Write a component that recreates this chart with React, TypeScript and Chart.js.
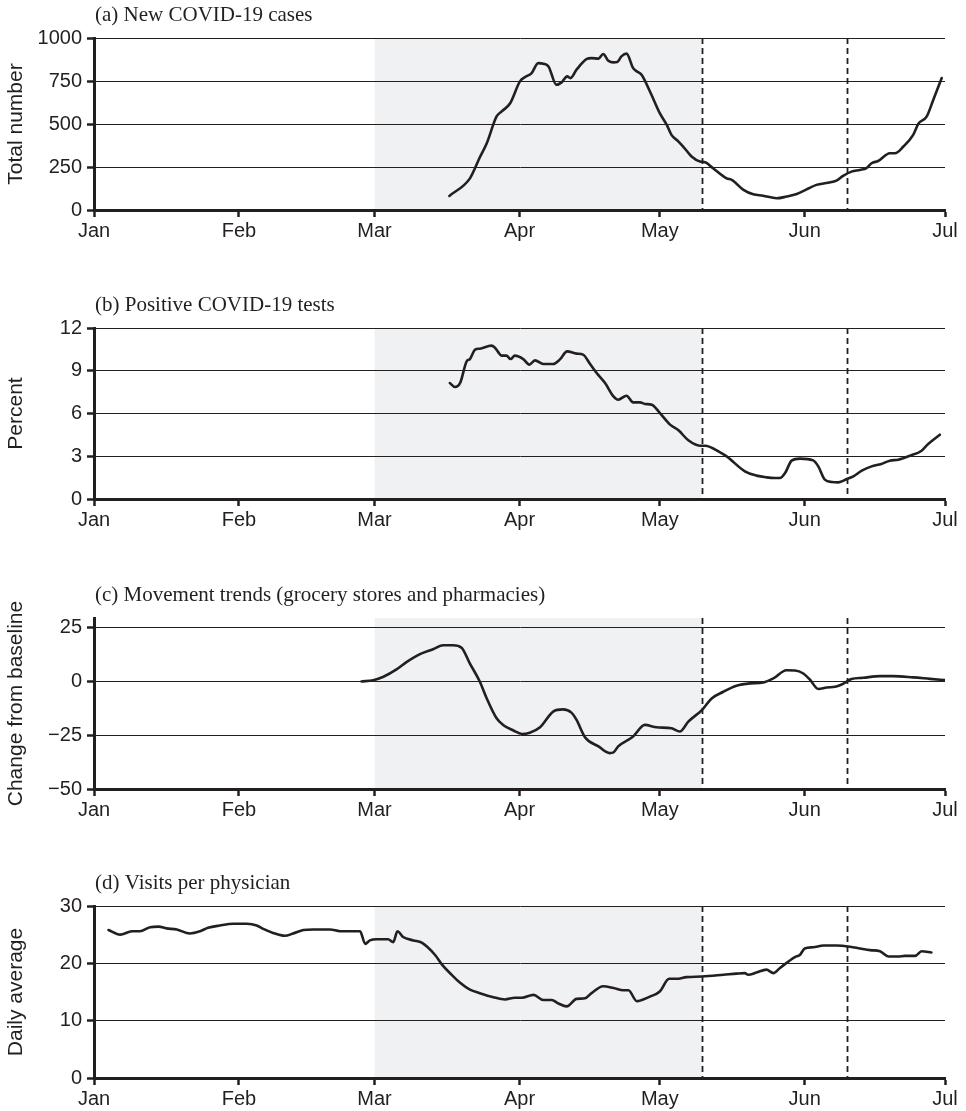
import React, { useEffect, useRef } from 'react';
import { Chart, registerables } from 'chart.js';

Chart.register(...registerables);

// ---- Axis categories (day of year 2020, Jan 1 = 0) ----
const monthLabels = ['Jan', 'Feb', 'Mar', 'Apr', 'May', 'Jun', 'Jul'];
const monthDays = [0, 31, 60, 91, 121, 152, 182];

// shaded period and dashed reference dates (day of year)
const shadeStartDay = 60;
const shadeEndDay = 130;
const dashedDays = [130, 161];

// ---- (a) New COVID-19 cases ----
const casesDays = [76, 80.4, 82.5, 84, 86.1, 87.2, 89, 91.1, 92.2, 93.6, 95, 96.1, 97.2, 98.9, 100, 101.2, 101.9, 103.2, 105.4, 106.4, 107.9, 108.9, 110, 111.1, 111.9, 112.8, 113.9, 115.3, 116.1, 117.1, 118.9, 121, 122.5, 123.5, 125, 126, 127.8, 129.6, 130.7, 132.4, 135.3, 136.4, 138.9, 141, 143.1, 146, 148.1, 150.3, 152.4, 154.5, 157, 158.8, 160.2, 162, 163.8, 165.2, 166.3, 167.7, 170.2, 171.3, 173.1, 175.2, 176.3, 178.1, 179.5, 181.3];
const casesValues = [82, 184, 305, 388, 544, 573, 621, 748, 773, 796, 854, 850, 835, 728, 742, 777, 767, 816, 878, 883, 880, 907, 868, 858, 860, 893, 909, 825, 806, 786, 689, 563, 495, 437, 398, 369, 311, 282, 278, 243, 184, 175, 117, 91, 83, 68, 78, 93, 120, 146, 159, 171, 198, 223, 233, 243, 272, 285, 330, 330, 369, 437, 501, 544, 641, 767];
const casesTicks = [0, 250, 500, 750, 1000];

// ---- (b) Positive COVID-19 tests ----
const testsDays = [76.1, 77.2, 78.3, 79.7, 80.4, 81.5, 82.5, 85, 85.8, 87.2, 88.2, 89.1, 90, 91.8, 93.1, 94.3, 96.1, 98.2, 99.6, 101.2, 103.2, 104.6, 106.1, 107.5, 109.3, 111.1, 112.1, 113.9, 115.3, 116.8, 117.8, 119.3, 121, 123.2, 125, 127.1, 129.6, 130.7, 133.9, 135.3, 139.2, 141.7, 143.8, 145.6, 146.7, 147.8, 149.2, 151, 153.8, 154.9, 156.3, 157.8, 159.2, 161, 162.4, 164.2, 166.3, 168.4, 170.2, 172, 174.5, 177, 178.4, 180.9];
const testsValues = [8.14, 7.86, 8.14, 9.66, 9.82, 10.48, 10.55, 10.76, 10.6, 10.06, 10.06, 9.82, 10.06, 9.82, 9.43, 9.73, 9.47, 9.47, 9.78, 10.36, 10.2, 10.13, 9.47, 8.84, 8.14, 7.2, 6.97, 7.25, 6.78, 6.78, 6.67, 6.62, 6.04, 5.22, 4.82, 4.12, 3.74, 3.74, 3.27, 2.99, 1.94, 1.64, 1.52, 1.47, 1.47, 1.82, 2.69, 2.83, 2.71, 2.29, 1.36, 1.19, 1.17, 1.4, 1.59, 1.99, 2.29, 2.46, 2.69, 2.76, 3.04, 3.39, 3.86, 4.51];
const testsTicks = [0, 3, 6, 9, 12];

// ---- (c) Movement trends (grocery stores and pharmacies) ----
const moveDays = [57.2, 59.7, 61.9, 64.7, 66.9, 69.7, 72.5, 74.7, 76.8, 78.6, 80.4, 82.5, 84, 86.1, 87.5, 89.7, 91.5, 93.2, 95.4, 98.2, 100.3, 102.1, 103.2, 105, 107.9, 110.3, 111.1, 112.1, 115.3, 117.8, 120.3, 123.5, 125.3, 127.1, 130, 132.1, 134.6, 137.4, 140.3, 143.1, 145.3, 148.1, 149.9, 151.7, 153.1, 154.9, 156.7, 158.5, 159.9, 162, 164.5, 168.1, 170.9, 175.2, 178.8, 182];
const moveValues = [0, 0.6, 2.2, 5.6, 9.1, 12.7, 15, 16.8, 16.8, 15.7, 8.3, 0, -7.9, -17.1, -20.2, -22.8, -24.4, -23.8, -21.3, -14, -13, -14.5, -17.9, -25.9, -30.2, -33.3, -33, -30.2, -25.6, -20.2, -21.3, -21.8, -23.3, -18.7, -13.3, -7.9, -4.8, -2, -0.9, -0.5, 1.4, 5.2, 5.1, 3.7, 0.9, -3.5, -2.8, -2.5, -1.4, 1.1, 1.7, 2.5, 2.5, 1.9, 1.2, 0.6];
const moveTicks = [-50, -25, 0, 25];

// ---- (d) Visits per physician ----
const visitsDays = [3.1, 5.6, 8.1, 9.8, 12, 13.8, 15.5, 17.7, 20.5, 22.7, 24.4, 26.9, 29.8, 32.7, 34.8, 36.2, 38.3, 40.8, 42.6, 44.8, 46.9, 50.5, 52.6, 54.7, 56.9, 58, 59, 60.5, 62.9, 64, 64.9, 66.1, 68.3, 70.1, 72.9, 74.7, 76.5, 78.3, 80.4, 82.5, 85.4, 87.9, 90, 91.5, 94, 96.1, 97.9, 99.3, 101.1, 103.2, 105, 106.4, 108.9, 111.1, 113.2, 114.3, 116.1, 118.9, 121, 123, 124.6, 126.7, 130, 134.6, 137.4, 139.2, 139.9, 141.7, 143.8, 145.3, 146.7, 149.9, 151, 152, 153.8, 156, 158.8, 161.7, 163.8, 166, 168.1, 169.9, 172, 173.4, 175.6, 177, 179.1];
const visitsValues = [25.8, 25, 25.6, 25.6, 26.3, 26.4, 26.1, 25.9, 25.2, 25.6, 26.2, 26.6, 26.9, 26.9, 26.6, 26, 25.3, 24.8, 25.2, 25.8, 25.9, 25.9, 25.6, 25.6, 25.6, 23.4, 24, 24.2, 24.2, 23.7, 25.6, 24.6, 24, 23.6, 21.5, 19.5, 18, 16.6, 15.4, 14.8, 14.1, 13.7, 14, 14, 14.5, 13.6, 13.6, 13, 12.5, 13.8, 13.9, 14.8, 16, 15.7, 15.3, 15.3, 13.4, 14.2, 15.1, 17.3, 17.3, 17.6, 17.7, 18, 18.2, 18.3, 18, 18.4, 18.9, 18.3, 19.2, 21.1, 21.5, 22.6, 22.8, 23.1, 23.1, 22.9, 22.6, 22.3, 22.1, 21.2, 21.2, 21.3, 21.3, 22.1, 21.9];
const visitsTicks = [0, 10, 20, 30];

// ---- styling / layout ----
const INK = '#231f20';
const SHADE = '#f0f1f3';
const SANS = '"Liberation Sans", Arial, Helvetica, sans-serif';
const SERIF = '"Liberation Serif", "Times New Roman", Times, serif';
const CANVAS_W = 966;
const Y_AXIS_W = 94;
const X_AXIS_H = 33;
const RIGHT_PAD = 21;

type PanelSpec = {
  title: string;
  yTitle: string;
  days: number[];
  values: number[];
  ticks: number[];
  yMin: number;
  yMax: number;
  top: number;
  chartTop: number;
  chartBottom: number;
};

const panels: PanelSpec[] = [
  { title: '(a) New COVID-19 cases', yTitle: 'Total number', days: casesDays, values: casesValues, ticks: casesTicks, yMin: 0, yMax: 1000, top: 0, chartTop: 38, chartBottom: 210 },
  { title: '(b) Positive COVID-19 tests', yTitle: 'Percent', days: testsDays, values: testsValues, ticks: testsTicks, yMin: 0, yMax: 12, top: 260, chartTop: 328, chartBottom: 499 },
  { title: '(c) Movement trends (grocery stores and pharmacies)', yTitle: 'Change from baseline', days: moveDays, values: moveValues, ticks: moveTicks, yMin: -50, yMax: 29.5, top: 560, chartTop: 618, chartBottom: 789 },
  { title: '(d) Visits per physician', yTitle: 'Daily average', days: visitsDays, values: visitsValues, ticks: visitsTicks, yMin: 0, yMax: 30, top: 850, chartTop: 906, chartBottom: 1078 },
];

function Panel({ spec }: { spec: PanelSpec }) {
  const ref = useRef<HTMLCanvasElement>(null);
  const height = spec.chartBottom + X_AXIS_H - spec.top;

  useEffect(() => {
    if (!ref.current) return;
    const overlay = {
      id: 'overlay',
      beforeDraw(chart: any) {
        const { ctx, chartArea, scales } = chart;
        const xs = scales.x;
        ctx.save();
        const x0 = xs.getPixelForValue(shadeStartDay);
        const x1 = xs.getPixelForValue(shadeEndDay);
        ctx.fillStyle = SHADE;
        ctx.fillRect(x0, chartArea.top, x1 - x0, chartArea.bottom - chartArea.top);
        ctx.fillStyle = INK;
        ctx.font = `21px ${SERIF}`;
        ctx.textAlign = 'left';
        ctx.textBaseline = 'alphabetic';
        ctx.fillText(spec.title, chartArea.left + 1, chartArea.top - 17.5);
        ctx.restore();
      },
      beforeDatasetsDraw(chart: any) {
        const { ctx, chartArea, scales } = chart;
        const xs = scales.x;
        ctx.save();
        ctx.strokeStyle = INK;
        ctx.lineWidth = 1.8;
        ctx.setLineDash([6, 4]);
        for (const d of dashedDays) {
          const px = Math.round(xs.getPixelForValue(d)) + 0.5;
          ctx.beginPath();
          ctx.moveTo(px, chartArea.top);
          ctx.lineTo(px, chartArea.bottom);
          ctx.stroke();
        }
        ctx.restore();
      },
    };

    const chart = new Chart(ref.current, {
      type: 'line',
      data: {
        datasets: [
          {
            data: spec.days.map((d, i) => ({ x: d, y: spec.values[i] })),
            borderColor: INK,
            borderWidth: 2.6,
            pointRadius: 0,
            fill: false,
            cubicInterpolationMode: 'monotone',
            borderJoinStyle: 'round',
            borderCapStyle: 'round',
          },
        ],
      },
      options: {
        responsive: false,
        maintainAspectRatio: false,
        animation: false,
        events: [],
        layout: { padding: { top: spec.chartTop - spec.top, right: RIGHT_PAD, left: 0, bottom: 0 } },
        plugins: {
          legend: { display: false },
          tooltip: { enabled: false },
          title: { display: false },
        },
        scales: {
          x: {
            type: 'linear',
            min: monthDays[0],
            max: monthDays[monthDays.length - 1],
            afterBuildTicks: (s: any) => {
              s.ticks = monthDays.map((v) => ({ value: v }));
            },
            afterFit: (s: any) => {
              s.height = X_AXIS_H;
            },
            ticks: {
              autoSkip: false,
              maxRotation: 0,
              padding: 2,
              color: INK,
              font: { family: SANS, size: 20 },
              callback: (_v: any, i: number) => monthLabels[i],
            },
            grid: { drawOnChartArea: false, drawTicks: true, tickLength: 7, tickWidth: 2.5, tickColor: INK },
            border: { display: true, color: INK, width: 3 },
          },
          y: {
            type: 'linear',
            min: spec.yMin,
            max: spec.yMax,
            afterBuildTicks: (s: any) => {
              s.ticks = spec.ticks.map((v) => ({ value: v }));
            },
            afterFit: (s: any) => {
              s.width = Y_AXIS_W;
            },
            ticks: {
              color: INK,
              padding: 5,
              font: { family: SANS, size: 20 },
              callback: (v: any) => String(v).replace('-', '\u2212'),
            },
            grid: { color: INK, lineWidth: 1, tickLength: 7, tickWidth: 2.5, tickColor: INK },
            border: { display: true, color: INK, width: 3 },
            title: {
              display: true,
              text: spec.yTitle,
              color: INK,
              font: { family: SANS, size: 21 },
              padding: { top: 4, bottom: 0 },
            },
          },
        },
      },
      plugins: [overlay],
    } as any);
    return () => chart.destroy();
  }, [spec]);

  return (
    <canvas
      ref={ref}
      width={CANVAS_W}
      height={height}
      style={{ position: 'absolute', left: 0, top: spec.top, width: CANVAS_W, height }}
    />
  );
}

export default function App() {
  return (
    <div
      style={{
        position: 'absolute',
        left: 0,
        top: 0,
        width: CANVAS_W,
        height: 1111,
        overflow: 'hidden',
        background: '#ffffff',
      }}
    >
      {panels.map((p) => (
        <Panel key={p.title} spec={p} />
      ))}
    </div>
  );
}
